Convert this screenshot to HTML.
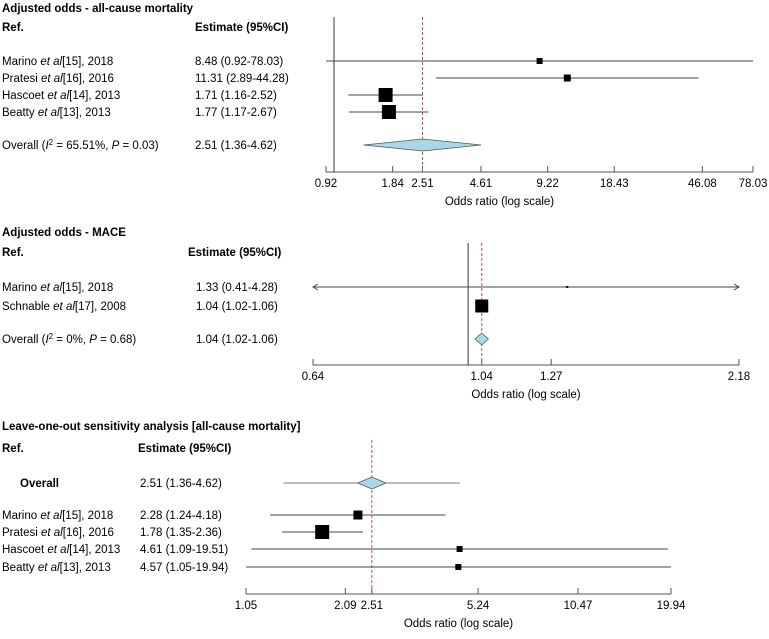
<!DOCTYPE html>
<html><head><meta charset="utf-8"><style>
html,body{margin:0;padding:0;background:#fff}
svg{display:block;font-family:"Liberation Sans",Arial,sans-serif;font-size:11.5px}
.b{font-weight:bold}
</style></head><body>
<svg id="c" width="769" height="639" viewBox="0 0 769 639"></svg>
<script>
// Panel 1: adjusted odds - all-cause mortality
const p1Labels=["Marino","Pratesi","Hascoet","Beatty"];
const p1Suffix=["[15], 2018","[16], 2016","[14], 2013","[13], 2013"];
const p1Est=[8.48,11.31,1.71,1.77];
const p1Lo=[0.92,2.89,1.16,1.17];
const p1Hi=[78.03,44.28,2.52,2.67];
const p1Box=[6,7,14,14];
const p1Overall=[2.51,1.36,4.62];
const p1Ticks=[0.92,1.84,2.51,4.61,9.22,18.43,46.08,78.03];
// Panel 2: MACE
const p2Labels=["Marino","Schnable"];
const p2Suffix=["[15], 2018","[17], 2008"];
const p2Est=[1.33,1.04];
const p2Lo=[0.41,1.02];
const p2Hi=[4.28,1.06];
const p2Box=[2,13];
const p2Overall=[1.04,1.02,1.06];
const p2Ticks=[0.64,1.04,1.27,2.18];
// Panel 3: leave-one-out
const p3Labels=["Marino","Pratesi","Hascoet","Beatty"];
const p3Suffix=["[15], 2018","[16], 2016","[14], 2013","[13], 2013"];
const p3Est=[2.28,1.78,4.61,4.57];
const p3Lo=[1.24,1.35,1.09,1.05];
const p3Hi=[4.18,2.36,19.51,19.94];
const p3Box=[9,14,6,6];
const p3Overall=[2.51,1.36,4.62];
const p3Ticks=[1.05,2.09,2.51,5.24,10.47,19.94];

const svg=document.getElementById('c');
const NS="http://www.w3.org/2000/svg";
function mk(tag,at,parent){const e=document.createElementNS(NS,tag);for(const k in at)e.setAttribute(k,at[k]);(parent||svg).appendChild(e);return e;}
function txt(x,y,s,cls,anchor){const t=mk('text',{x:x,y:y,'text-anchor':anchor||'start'});if(cls)t.setAttribute('class',cls);t.textContent=s;return t;}
function fmt(v){return v.toFixed(2);}
function scale(lo,hi,x0,x1){return v=>x0+(Math.log(v)-Math.log(lo))/(Math.log(hi)-Math.log(lo))*(x1-x0);}
function studyLabel(x,y,name,suf){const t=mk('text',{x:x,y:y});
 t.appendChild(document.createTextNode(name+' '));const i=mk('tspan',{'font-style':'italic'},t);i.textContent='et al';t.appendChild(document.createTextNode(suf));}

function panel(o){
 const X=scale(o.ticks[0],o.ticks[o.ticks.length-1],o.x0,o.x1);
 const tt=txt(2,o.titleY,o.title,'b');
 const r=txt(2,o.headY,'Ref.','b');
 const eh=txt(o.estHeadX,o.headY,'Estimate (95%CI)','b');
 const ax=mk('line',{x1:o.x0,y1:o.axisY,x2:o.x1,y2:o.axisY,stroke:'#555','stroke-width':1});
 
 o.ticks.forEach(t=>{const x=X(t);const tk=mk('line',{x1:x,y1:o.axisY-6,x2:x,y2:o.axisY,stroke:'#555'});
  
  const tl=txt(x,o.axisY+15,fmt(t),null,'middle');});
 const at=txt((o.x0+o.x1)/2+o.titleShift,o.axisY+33,'Odds ratio (log scale)',null,'middle');
 
 if(o.nullLine){const n=mk('line',{x1:X(1),y1:o.lineTop,x2:X(1),y2:o.axisY,stroke:'#333','stroke-width':1});
  }
 const d=mk('line',{x1:X(o.overall[0]),y1:o.lineTop,x2:X(o.overall[0]),y2:o.axisY,stroke:'#c0504d','stroke-width':1,'stroke-dasharray':'3,2'});
 
 const oy=o.overallY;
 if(o.overallLabel){const ol=mk('text',{x:o.overallLabelX,y:oy+4});if(o.overallBold)ol.setAttribute('class','b');
  
  o.overallLabel.forEach(p=>{const at={};if(p[1]===1)at['font-style']='italic';if(p[1]===2){at['baseline-shift']='super';at['font-size']='8px';}
   const s=mk('tspan',at,ol);s.textContent=p[0];});}
 const oe=txt(o.estX,oy+4,fmt(o.overall[0])+' ('+fmt(o.overall[1])+'-'+fmt(o.overall[2])+')');
 
 let dx0=X(o.overall[1]),dx1=X(o.overall[2]),dc=X(o.overall[0]);
 if(o.overallWhisker){const w=mk('line',{x1:dx0,y1:oy,x2:dx1,y2:oy,stroke:'#777'});
  dx0=dc-14;dx1=dc+14;}
 if(dx1-dx0<12){dx0=dc-6;dx1=dc+6;}
 const dm=mk('polygon',{points:`${dx0},${oy} ${dc},${oy-o.dh} ${dx1},${oy} ${dc},${oy+o.dh}`,fill:'#a8d8e6',stroke:'#555','stroke-width':0.8});
 
 o.labels.forEach((nm,i)=>{const y=o.rowY[i];
  studyLabel(2,y+4,nm,o.suffix[i]);
  const e=txt(o.estX,y+4,fmt(o.est[i])+' ('+fmt(o.lo[i])+'-'+fmt(o.hi[i])+')');
  let a=X(o.lo[i]),b=X(o.hi[i]),arrow=false;
  if(a<o.x0){a=o.x0;arrow=true;} if(b>o.x1){b=o.x1;arrow=true;}
  const l=mk('line',{x1:a,y1:y,x2:b,y2:y,stroke:'#444'});
  if(arrow){[[a,1],[b,-1]].forEach(p=>{const h=mk('polyline',{points:`${p[0]+5*p[1]},${y-3} ${p[0]},${y} ${p[0]+5*p[1]},${y+3}`,fill:'none',stroke:'#444'});
   });}
  const s=o.box[i];const bx=mk('rect',{x:X(o.est[i])-s/2,y:y-s/2,width:s,height:s,fill:'#000'});
  
 });
}
panel({title:'Adjusted odds - all-cause mortality',titleY:12,headY:31,estHeadX:195,estX:195,x0:326,x1:753,axisY:172,titleShift:-40,
 ticks:p1Ticks,labels:p1Labels,suffix:p1Suffix,est:p1Est,lo:p1Lo,hi:p1Hi,box:p1Box,rowY:[61,78,95,112],
 overall:p1Overall,overallY:145,dh:6,nullLine:true,lineTop:17,
 overallLabel:[['Overall ('],['I',1],['2',2],[' = 65.51%, '],['P',1],[' = 0.03)']],overallLabelX:2});
panel({title:'Adjusted odds - MACE',titleY:236,headY:256,estHeadX:188,estX:196,x0:313,x1:739,axisY:365,titleShift:0,
 ticks:p2Ticks,labels:p2Labels,suffix:p2Suffix,est:p2Est,lo:p2Lo,hi:p2Hi,box:p2Box,rowY:[287,306],
 overall:p2Overall,overallY:339,dh:6,nullLine:true,lineTop:243,
 overallLabel:[['Overall ('],['I',1],['2',2],[' = 0%, '],['P',1],[' = 0.68)']],overallLabelX:2});
panel({title:'Leave-one-out sensitivity analysis [all-cause mortality]',titleY:430,headY:452,estHeadX:138,estX:140,x0:246,x1:671,axisY:594,titleShift:0,
 ticks:p3Ticks,labels:p3Labels,suffix:p3Suffix,est:p3Est,lo:p3Lo,hi:p3Hi,box:p3Box,rowY:[515,532,549,567],
 overall:p3Overall,overallY:483,dh:6,nullLine:false,lineTop:440,overallWhisker:true,
 overallLabel:[['Overall']],overallLabelX:20,overallBold:true});
</script>
</body></html>
